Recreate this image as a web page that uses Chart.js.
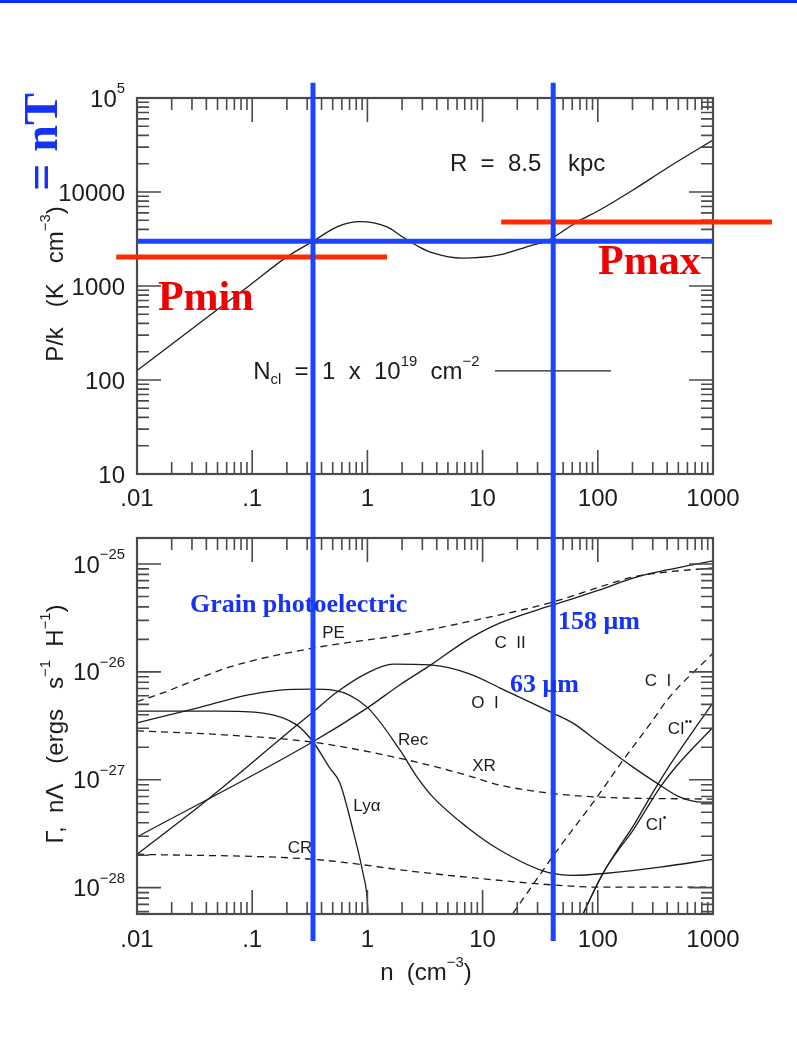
<!DOCTYPE html>
<html>
<head>
<meta charset="utf-8">
<title>Thermal pressure and heating / cooling rates</title>
<script src="https://cdn.jsdelivr.net/npm/chart.js@4.4.1/dist/chart.umd.min.js"></script>
<style>
  html, body { margin: 0; padding: 0; background: #fff; }
  #page { position: relative; width: 797px; height: 1055px; overflow: hidden; }
  #topRule { position: absolute; left: 0; top: 0; width: 797px; height: 3px; background: #0a2cff; }
  canvas { position: absolute; left: 0; }
  #pressChart { top: 0; }
  #coolChart { top: 520px; }
</style>
</head>
<body>
<div id="page">
  <canvas id="pressChart" width="797" height="520"></canvas>
  <canvas id="coolChart" width="797" height="535"></canvas>
  <div id="topRule"></div>
</div>
<script>
// -------------------
// Data
// -------------------
const densTicks = [0.01, 0.1, 1, 10, 100, 1000];
const densTickLabels = ['.01', '.1', '1', '10', '100', '1000'];
const pressTicks = [10, 100, 1000, 10000, 100000];
const pressTickLabels = ['10', '100', '1000', '10000', '10^{5}'];
const coolTicks = [1e-25, 1e-26, 1e-27, 1e-28];
const coolTickLabels = ['10^{\u221225}', '10^{\u221226}', '10^{\u221227}', '10^{\u221228}'];

// P/k against n, R = 8.5 kpc
const densP  = [0.01, 0.035, 0.096, 0.2, 0.34, 0.55, 0.86, 1.48, 2.04, 2.86, 3.7, 6.6, 14, 27, 36, 66, 104, 202, 400, 1000];
const pressP = [126, 404, 1026, 2040, 3010, 4280, 4830, 4250, 3300, 2580, 2250, 1980, 2140, 2730, 3010, 4800, 6440, 10500, 18000, 35700];

// heating (dashed)
const densPE = [0.01, 0.0168, 0.064, 0.337, 1.92, 7.33, 40.8, 104, 202, 400, 1000];
const heatPE = [5.3e-27, 6.4e-27, 1.11e-26, 1.66e-26, 2.19e-26, 2.9e-26, 4.44e-26, 6.12e-26, 7.57e-26, 8.43e-26, 9.18e-26];
const densXR = [0.01, 0.064, 0.337, 1.92, 7.33, 14.2, 40.8, 104, 1000];
const heatXR = [2.84e-27, 2.59e-27, 2.23e-27, 1.58e-27, 1.1e-27, 8.9e-28, 7.46e-28, 6.9e-28, 6.61e-28];
const densCR = [0.01, 0.337, 2.86, 7.33, 40.8, 104, 1000];
const heatCR = [2.04e-28, 1.83e-28, 1.39e-28, 1.25e-28, 1.06e-28, 1.01e-28, 1.01e-28];
const densCI = [16, 18.4, 42.5, 98.4, 166, 301, 399, 1000];
const heatCI = [4.7e-29, 5.8e-29, 2.08e-28, 6.9e-28, 1.52e-27, 3.57e-27, 5.47e-27, 1.49e-26];

// cooling (solid)
const densCII = [0.01, 0.337, 0.993, 1.92, 3.64, 7.33, 14.2, 40.8, 104, 202, 400, 1000];
const coolCII = [2.95e-28, 2.25e-27, 4.61e-27, 7.6e-27, 1.18e-26, 1.97e-26, 2.84e-26, 4.17e-26, 5.74e-26, 7.41e-26, 8.8e-26, 1.07e-25];
const densOI = [0.01, 0.0389, 0.245, 0.337, 0.545, 0.993, 1.667, 3.49, 7.8, 14.2, 40.8, 60.9, 104, 202, 326, 517, 818, 1000];
const coolOI = [2.04e-28, 6.24e-28, 3.21e-27, 4.24e-27, 6.5e-27, 9.75e-27, 1.18e-26, 1.16e-26, 9.55e-27, 7.08e-27, 4.15e-27, 3.35e-27, 2.19e-27, 1.31e-27, 9.3e-28, 6.9e-28, 6.2e-28, 6.2e-28];
const densRec = [0.01, 0.0332, 0.0902, 0.174, 0.337, 0.503, 0.993, 1.92, 2.7, 3.71, 7.33, 14.2, 36.2, 60.9, 120, 347, 1000];
const coolRec = [3.37e-27, 4.61e-27, 6.1e-27, 6.78e-27, 6.92e-27, 6.78e-27, 4.71e-27, 1.88e-27, 1.06e-27, 6.9e-28, 3.63e-28, 2.22e-28, 1.39e-28, 1.3e-28, 1.36e-28, 1.55e-28, 1.83e-28];
const densLya = [0.01, 0.05, 0.124, 0.245, 0.337, 0.473, 0.578, 0.75, 0.916, 0.993, 1.02];
const coolLya = [4.33e-27, 4.33e-27, 4.15e-27, 3.21e-27, 2.25e-27, 1.28e-27, 9.3e-28, 3.4e-28, 1.36e-28, 8.15e-29, 5.0e-29];
const densCIss = [70, 74.5, 111, 147, 202, 300, 400, 1000];
const coolCIss = [4.9e-29, 5.7e-29, 1.36e-28, 2.22e-28, 3.7e-28, 7.6e-28, 1.25e-27, 5.2e-27];
const densCIs = [70, 74.5, 111, 147, 202, 347, 500, 1000];
const coolCIs = [4.9e-29, 5.7e-29, 1.36e-28, 2.15e-28, 3.4e-28, 8.5e-28, 1.4e-27, 3.07e-27];

// curve labels: text, n, rate
const curveNames = ['PE', 'C  II', 'O  I', 'Rec', 'XR', 'Ly\u03b1', 'CR', 'C  I', 'CI^{\u2022\u2022}', 'CI^{\u2022}'];
const curveNameDens = [0.508, 17.3, 10.5, 2.49, 10.3, 0.99, 0.26, 333, 517, 320];
const curveNameRate = [2.34e-26, 1.89e-26, 5.26e-27, 2.39e-27, 1.37e-27, 5.83e-28, 2.38e-28, 8.41e-27, 3.02e-27, 3.89e-28];

// two-phase markers
const nWarm = 0.337, nCold = 41;
const pEq = 3000, pMin = 2040, pMax = 4800;
const pMinSpan = [0.0066, 1.48];
const pMaxSpan = [14.5, 3250];
const markTopP = 1.45e5, markBottomRate = 3.2e-29;

// -------------------
// Drawing helpers
// -------------------
const INK = '#1c1c1c';
const AXIS = '#4a4a4a';
const BLUE = '#1a44ff';
const BLUE_TEXT = '#1633f5';
const RED = '#ff2a00';
const RED_TEXT = '#f00000';
const SANS = '"Liberation Sans", Arial, sans-serif';
const SERIF = '"Liberation Serif", "Times New Roman", serif';

// '^{..}' raised, '_{..}' lowered; y is the baseline
function richText(ctx, str, x, y, size, align, family, weight) {
  family = family || SANS;
  weight = weight || 'normal';
  const runs = str.split(/(\^\{[^}]*\}|_\{[^}]*\})/).filter(s => s.length).map(p => {
    if (p.startsWith('^{')) return { t: p.slice(2, -1), s: size * 0.62, dy: -size * 0.55 };
    if (p.startsWith('_{')) return { t: p.slice(2, -1), s: size * 0.62, dy: size * 0.22 };
    return { t: p, s: size, dy: 0 };
  });
  let w = 0;
  runs.forEach(r => { ctx.font = `${weight} ${r.s}px ${family}`; r.w = ctx.measureText(r.t).width; w += r.w; });
  let cx = align === 'center' ? x - w / 2 : align === 'right' ? x - w : x;
  ctx.textAlign = 'left';
  ctx.textBaseline = 'alphabetic';
  runs.forEach(r => { ctx.font = `${weight} ${r.s}px ${family}`; ctx.fillText(r.t, cx, y + r.dy); cx += r.w; });
}

function logValues(min, max) {
  const out = [];
  for (let e = Math.floor(Math.log10(min)); e <= Math.ceil(Math.log10(max)); e++) {
    for (let m = 1; m <= 9; m++) {
      const v = m * Math.pow(10, e);
      if (v >= min * 0.999 && v <= max * 1.001) out.push({ v, major: m === 1 });
    }
  }
  return out;
}

function drawFrame(chart) {
  const { ctx, chartArea: a, scales: { x, y } } = chart;
  ctx.save();
  ctx.strokeStyle = AXIS;
  ctx.lineWidth = 1.6;
  ctx.beginPath();
  logValues(x.min, x.max).forEach(t => {
    const px = x.getPixelForValue(t.v), len = t.major ? 24 : 12;
    ctx.moveTo(px, a.bottom); ctx.lineTo(px, a.bottom - len);
    ctx.moveTo(px, a.top); ctx.lineTo(px, a.top + len);
  });
  logValues(y.min, y.max).forEach(t => {
    const py = y.getPixelForValue(t.v), len = t.major ? 24 : 12;
    ctx.moveTo(a.left, py); ctx.lineTo(a.left + len, py);
    ctx.moveTo(a.right, py); ctx.lineTo(a.right - len, py);
  });
  ctx.stroke();
  ctx.lineWidth = 2.2;
  ctx.strokeRect(a.left, a.top, a.right - a.left, a.bottom - a.top);
  ctx.restore();
}

function drawTickLabels(chart, yTicks, yLabels, xGap) {
  const { ctx, chartArea: a, scales: { x, y } } = chart;
  ctx.save();
  ctx.fillStyle = INK;
  densTicks.forEach((v, i) => richText(ctx, densTickLabels[i], x.getPixelForValue(v), a.bottom + xGap + 8.6, 24, 'center'));
  yTicks.forEach((v, i) => richText(ctx, yLabels[i], a.left - 12, y.getPixelForValue(v) + 8.6, 24, 'right'));
  ctx.restore();
}

function vTitle(ctx, str, bx, cy, size) {
  ctx.save();
  ctx.translate(bx, cy);
  ctx.rotate(-Math.PI / 2);
  richText(ctx, str, 0, 0, size, 'center');
  ctx.restore();
}

function hLine(ctx, x0, x1, y, color, width) {
  ctx.strokeStyle = color; ctx.lineWidth = width;
  ctx.beginPath(); ctx.moveTo(x0, y); ctx.lineTo(x1, y); ctx.stroke();
}

function vLine(ctx, x, y0, y1, color, width) {
  ctx.strokeStyle = color; ctx.lineWidth = width;
  ctx.beginPath(); ctx.moveTo(x, y0); ctx.lineTo(x, y1); ctx.stroke();
}

function series(xs, ys, dashed) {
  return {
    data: xs.map((x, i) => ({ x, y: ys[i] })),
    borderColor: INK,
    borderWidth: 1.3,
    borderDash: dashed ? [7, 5] : [],
    pointRadius: 0,
    cubicInterpolationMode: 'monotone',
    fill: false
  };
}

function baseOptions(padding, yMin, yMax) {
  return {
    responsive: false,
    animation: false,
    devicePixelRatio: 1,
    layout: { padding },
    scales: {
      x: { type: 'logarithmic', min: densTicks[0], max: densTicks[densTicks.length - 1], display: false },
      y: { type: 'logarithmic', min: yMin, max: yMax, display: false }
    },
    plugins: { legend: { display: false }, tooltip: { enabled: false } }
  };
}

// -------------------
// Upper panel: P/k
// -------------------
const pressPanel = {
  id: 'pressPanel',
  afterDatasetsDraw(chart) {
    const { ctx, chartArea: a, scales: { x, y } } = chart;
    drawFrame(chart);
    drawTickLabels(chart, pressTicks, pressTickLabels, 23);
    ctx.save();
    ctx.fillStyle = INK;
    vTitle(ctx, 'P/k   (K   cm^{\u22123})', a.left - 74, (a.top + a.bottom) / 2 - 2, 24);
    richText(ctx, 'R  =  8.5    kpc', x.getPixelForValue(5.2), y.getPixelForValue(20850) + 8.6, 24, 'left');
    richText(ctx, 'N_{cl}  =  1  x  10^{19}  cm^{\u22122}', x.getPixelForValue(0.102), y.getPixelForValue(126) + 8.6, 24, 'left');
    hLine(ctx, x.getPixelForValue(12.8), x.getPixelForValue(130), y.getPixelForValue(125), INK, 1.3);
    ctx.restore();
  },
  afterDraw(chart) {
    const { ctx, chartArea: a, scales: { x, y } } = chart;
    ctx.save();
    ctx.lineCap = 'butt';
    hLine(ctx, x.getPixelForValue(pMinSpan[0]), x.getPixelForValue(pMinSpan[1]), y.getPixelForValue(pMin), RED, 5);
    hLine(ctx, x.getPixelForValue(pMaxSpan[0]), x.getPixelForValue(pMaxSpan[1]), y.getPixelForValue(pMax), RED, 5);
    hLine(ctx, a.left, a.right, y.getPixelForValue(pEq), BLUE, 5);
    [nWarm, nCold].forEach(n => vLine(ctx, x.getPixelForValue(n), y.getPixelForValue(markTopP), chart.height, BLUE, 5));

    ctx.fillStyle = RED_TEXT;
    richText(ctx, 'Pmin', x.getPixelForValue(0.0152), y.getPixelForValue(556), 42, 'left', SERIF, 'bold');
    richText(ctx, 'Pmax', x.getPixelForValue(100.5), y.getPixelForValue(1343), 42, 'left', SERIF, 'bold');

    ctx.fillStyle = BLUE_TEXT;
    ctx.translate(a.left - 80, a.top + 93);
    ctx.rotate(-Math.PI / 2);
    richText(ctx, '= nT', 0, 0, 48, 'left', SERIF, 'bold');
    ctx.restore();
  }
};

new Chart(document.getElementById('pressChart'), {
  type: 'line',
  data: { datasets: [series(densP, pressP, false)] },
  options: baseOptions({ left: 137, right: 84, top: 98, bottom: 46 }, pressTicks[0], pressTicks[pressTicks.length - 1]),
  plugins: [pressPanel]
});

// -------------------
// Lower panel: heating and cooling
// -------------------
const coolPanel = {
  id: 'coolPanel',
  afterDatasetsDraw(chart) {
    const { ctx, chartArea: a, scales: { x, y } } = chart;
    drawFrame(chart);
    drawTickLabels(chart, coolTicks, coolTickLabels, 24);
    ctx.save();
    ctx.fillStyle = INK;
    vTitle(ctx, '\u0393,  n\u039b   (ergs   s^{\u22121}  H^{\u22121})', a.left - 74, (a.top + a.bottom) / 2 - 2, 24);
    richText(ctx, 'n  (cm^{\u22123})', (a.left + a.right) / 2 + 1, a.bottom + 66, 24, 'center');
    curveNames.forEach((t, i) => {
      richText(ctx, t, x.getPixelForValue(curveNameDens[i]), y.getPixelForValue(curveNameRate[i]) + 6, 17, 'center');
    });
    ctx.restore();
  },
  afterDraw(chart) {
    const { ctx, scales: { x, y } } = chart;
    ctx.save();
    [nWarm, nCold].forEach(n => vLine(ctx, x.getPixelForValue(n), 0, y.getPixelForValue(markBottomRate), BLUE, 5));
    ctx.fillStyle = BLUE_TEXT;
    richText(ctx, 'Grain photoelectric', x.getPixelForValue(0.0288), y.getPixelForValue(4.35e-26) + 9, 26, 'left', SERIF, 'bold');
    richText(ctx, '158 \u03bcm', x.getPixelForValue(45.2), y.getPixelForValue(3.03e-26) + 9, 26, 'left', SERIF, 'bold');
    richText(ctx, '63 \u03bcm', x.getPixelForValue(17.3), y.getPixelForValue(7.88e-27) + 9, 26, 'left', SERIF, 'bold');
    ctx.restore();
  }
};

new Chart(document.getElementById('coolChart'), {
  type: 'line',
  data: {
    datasets: [
      series(densPE, heatPE, true),
      series(densXR, heatXR, true),
      series(densCR, heatCR, true),
      series(densCI, heatCI, true),
      series(densCII, coolCII, false),
      series(densOI, coolOI, false),
      series(densRec, coolRec, false),
      series(densLya, coolLya, false),
      series(densCIss, coolCIss, false),
      series(densCIs, coolCIs, false)
    ]
  },
  options: baseOptions({ left: 137, right: 84, top: 18, bottom: 141 }, 5.70e-29, 1.74e-25),
  plugins: [coolPanel]
});
</script>
</body>
</html>
